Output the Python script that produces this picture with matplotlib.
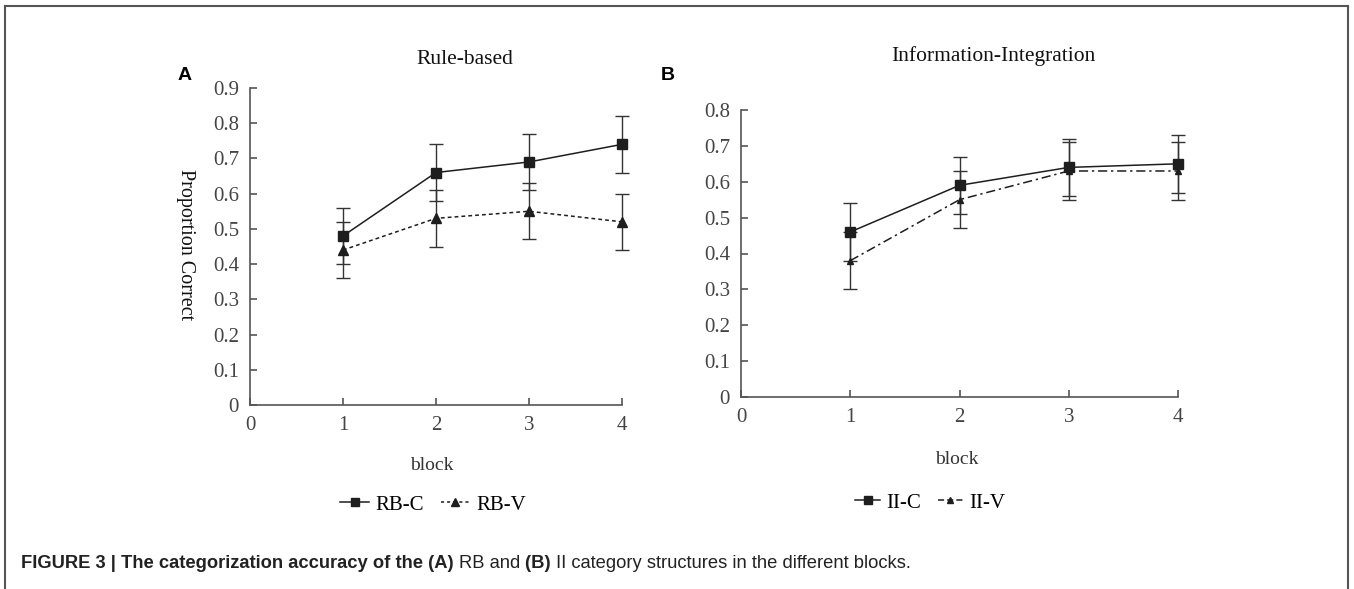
import numpy as np
import matplotlib.pyplot as plt
from matplotlib.lines import Line2D

# data
blocks = [1, 2, 3, 4]
rb_c = [0.48, 0.66, 0.69, 0.74]
rb_c_err = [0.08, 0.08, 0.08, 0.08]
rb_v = [0.44, 0.53, 0.55, 0.52]
rb_v_err = [0.08, 0.08, 0.08, 0.08]
ii_c = [0.46, 0.59, 0.64, 0.65]
ii_c_err = [0.08, 0.08, 0.08, 0.08]
ii_v = [0.38, 0.55, 0.63, 0.63]
ii_v_err = [0.08, 0.08, 0.08, 0.08]
x_ticks = [0, 1, 2, 3, 4]
yticks_a = [0, 0.1, 0.2, 0.3, 0.4, 0.5, 0.6, 0.7, 0.8, 0.9]
yticks_b = [0, 0.1, 0.2, 0.3, 0.4, 0.5, 0.6, 0.7, 0.8]

W, H = 1354, 589
fig = plt.figure(figsize=(W / 100, H / 100), dpi=100)
serif = 'Liberation Serif'
ink = '#1e1e1e'
tick_col = '#444444'


def fmt(v):
    return '0' if v == 0 else '%.1f' % v


def style_axes(ax, ymax, yticks):
    ax.set_xlim(0, 4)
    ax.set_ylim(0, ymax)
    for s in ['top', 'right']:
        ax.spines[s].set_visible(False)
    for s in ['left', 'bottom']:
        ax.spines[s].set_color('#555555')
        ax.spines[s].set_linewidth(1.2)
    ax.set_xticks(x_ticks)
    ax.set_xticklabels([str(t) for t in x_ticks])
    ax.set_yticks(yticks)
    ax.set_yticklabels([fmt(t) for t in yticks])
    ax.tick_params(direction='in', length=5, width=1.2, color='#555555',
                   labelcolor=tick_col, labelsize=15, pad=8)
    for lab in ax.get_xticklabels() + ax.get_yticklabels():
        lab.set_family(serif)
    ax.patch.set_alpha(0)


def plot_series(ax, y, err, marker, ls, ms):
    ax.errorbar(blocks, y, yerr=err, color=ink, ecolor='#333333', lw=1.1,
                ls=ls, marker=marker, ms=ms, mfc=ink, mec=ink,
                capsize=5, capthick=1.0, elinewidth=1.0, clip_on=False)


# panel A
ax1 = fig.add_axes([250 / W, 1 - 405 / H, 372 / W, 317 / H])
style_axes(ax1, 0.9, yticks_a)
plot_series(ax1, rb_c, rb_c_err, 's', '-', 7)
plot_series(ax1, rb_v, rb_v_err, '^', (0, (2.5, 2)), 6.5)
fig.text(465 / W, 1 - 60 / H, 'Rule-based', family=serif, fontsize=15.5,
         ha='center', va='center', color='#111111')
fig.text(185 / W, 1 - 245 / H, 'Proportion Correct', family=serif, fontsize=14.5,
         rotation=-90, ha='center', va='center', color='#111111')
fig.text(432 / W, 1 - 466 / H, 'block', family=serif, fontsize=14,
         ha='center', va='center', color='#333333')
fig.text(185 / W, 1 - 75 / H, 'A', family='Liberation Sans', fontsize=14,
         fontweight='bold', ha='center', va='center')
h_a = [Line2D([], [], color=ink, ls='-', marker='s', ms=6, lw=1.1),
       Line2D([], [], color=ink, ls=(0, (2, 2)), marker='^', ms=6, lw=1.1)]
fig.legend(h_a, ['RB-C', 'RB-V'], loc='center', bbox_to_anchor=(433 / W, 1 - 505 / H),
           ncol=2, frameon=False, handlelength=1.4, handletextpad=0.3,
           columnspacing=0.8, prop={'family': serif, 'size': 15})

# panel B
ax2 = fig.add_axes([741 / W, 1 - 397 / H, 437 / W, 287 / H])
style_axes(ax2, 0.8, yticks_b)
plot_series(ax2, ii_c, ii_c_err, 's', '-', 7)
plot_series(ax2, ii_v, ii_v_err, '^', (0, (6, 2.5, 1.5, 2.5)), 5)
fig.text(993 / W, 1 - 56 / H, 'Information-Integration', family=serif, fontsize=15.5,
         ha='center', va='center', color='#111111')
fig.text(957 / W, 1 - 460 / H, 'block', family=serif, fontsize=14,
         ha='center', va='center', color='#333333')
fig.text(668 / W, 1 - 75 / H, 'B', family='Liberation Sans', fontsize=14,
         fontweight='bold', ha='center', va='center')
h_b = [Line2D([], [], color=ink, ls='-', marker='s', ms=6, lw=1.1),
       Line2D([], [], color=ink, ls=(0, (4, 2)), marker='^', ms=5, lw=1.1)]
fig.legend(h_b, ['II-C', 'II-V'], loc='center', bbox_to_anchor=(930 / W, 1 - 503 / H),
           ncol=2, frameon=False, handlelength=1.2, handletextpad=0.3,
           columnspacing=0.8, prop={'family': serif, 'size': 15})

# outer frame (left, top, right)
frame = dict(color='#555555', lw=1.5, transform=fig.transFigure)
fig.add_artist(Line2D([5 / W, 5 / W], [0, 1 - 6 / H], **frame))
fig.add_artist(Line2D([5 / W, 1348 / W], [1 - 6 / H, 1 - 6 / H], **frame))
fig.add_artist(Line2D([1348 / W, 1348 / W], [0, 1 - 6 / H], **frame))

# caption with mixed bold / regular runs
pieces = [('FIGURE 3 | The categorization accuracy of the (A) ', 'bold'),
          ('RB and ', 'normal'),
          ('(B) ', 'bold'),
          ('II category structures in the different blocks.', 'normal')]
renderer = fig.canvas.get_renderer()
x = 21
for txt, wt in pieces:
    t = fig.text(x / W, 1 - 563 / H, txt, family='Liberation Sans', fontsize=13.2,
                 fontweight=wt, ha='left', va='center', color='#222222')
    bb = t.get_window_extent(renderer=renderer)
    x += bb.width

fig.savefig('out.png', dpi=100)
